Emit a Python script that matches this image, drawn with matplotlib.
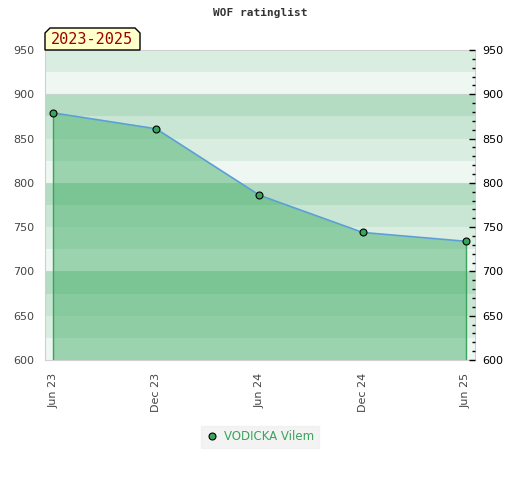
import matplotlib
matplotlib.use('Agg')
import matplotlib.pyplot as plt
from matplotlib.patches import Polygon
from matplotlib.lines import Line2D

# data
periods = ['Jun 23', 'Dec 23', 'Jun 24', 'Dec 24', 'Jun 25']
ratings = [879, 861, 786, 744, 734]
player = 'VODICKA Vilem'
title = 'WOF ratinglist'
span_label = '2023-2025'

band_colors = ['#eef7f1', '#d9eee1', '#c8e6d3', '#b3dcc2']
green = '#3aa35c'

fig = plt.figure(figsize=(5.2, 4.8), dpi=100)
ax = fig.add_axes([45 / 520, 1 - 360 / 480, 430 / 520, 310 / 480])

x = list(range(len(periods)))
ax.set_xlim(-0.078, len(periods) - 1 + 0.088)
ax.set_ylim(600, 950)

# striped background, 25 points per band
lo = 600
i = 0
while lo < 950:
    ax.axhspan(lo, lo + 25, color=band_colors[i % 4], lw=0, zorder=0)
    lo += 25
    i += 1
for y in (700, 800, 900):
    ax.axhline(y, color='#c4d8cb', lw=0.8, zorder=0.5)

ax.fill_between(x, ratings, 600, color='#3dac61', alpha=0.47, lw=0, zorder=1)
ax.vlines([x[0], x[-1]], 600, [ratings[0], ratings[-1]], color=green, lw=1, zorder=2)
ax.plot(x, ratings, color='#5b9fd8', lw=1.2, zorder=3)
ax.plot(x, ratings, 'o', ms=5, mfc=green, mec='black', mew=0.8, zorder=4)

for s in ax.spines.values():
    s.set_color('#d0d0d0')

ax.set_xticks(x)
ax.set_xticklabels(periods, rotation=90, color='#444444', fontsize=8)
ax.tick_params(axis='x', length=0, pad=9)
ax.set_yticks(range(600, 951, 50))
ax.tick_params(axis='y', length=0, pad=7.5, labelcolor='#444444', labelsize=8)

ax2 = ax.twinx()
ax2.set_ylim(600, 950)
ax2.set_yticks(range(600, 951, 50))
ax2.set_yticks(range(600, 951, 10), minor=True)
ax2.tick_params(axis='y', which='major', direction='in', length=4, width=1,
                pad=5, labelsize=8, labelcolor='black')
ax2.tick_params(axis='y', which='minor', direction='in', length=2.5, width=1)
for s in ax2.spines.values():
    s.set_visible(False)

fig.text(0.5, 1 - 13 / 480, title, ha='center', va='center', fontsize=8,
         fontweight='bold', family='DejaVu Sans Mono', color='#333333')

# period tag with clipped top corners
W, H = 520, 480
pts = [(45, 50), (45, 33), (50, 28), (135, 28), (140, 33), (140, 50)]
tag = Polygon([(px / W, 1 - py / H) for px, py in pts], closed=True,
              transform=fig.transFigure, facecolor='#ffffcc', edgecolor='black',
              lw=1, zorder=5)
fig.patches.append(tag)
fig.text(92 / W, 1 - 40 / H, span_label, ha='center', va='center', fontsize=11,
         family='DejaVu Sans Mono', color='#990000', zorder=6)

handle = Line2D([], [], ls='none', marker='o', ms=5, mfc=green, mec='black', mew=0.8)
leg = fig.legend([handle], [player], loc='center', bbox_to_anchor=(0.5, 1 - 437 / H),
                 frameon=True, fancybox=False, fontsize=8.5, handletextpad=0.5,
                 handlelength=1.0, borderpad=0.4, labelcolor=green)
leg.get_frame().set_facecolor('#f0f0f0')
leg.get_frame().set_edgecolor('#f0f0f0')

fig.savefig('out.png', dpi=100)
